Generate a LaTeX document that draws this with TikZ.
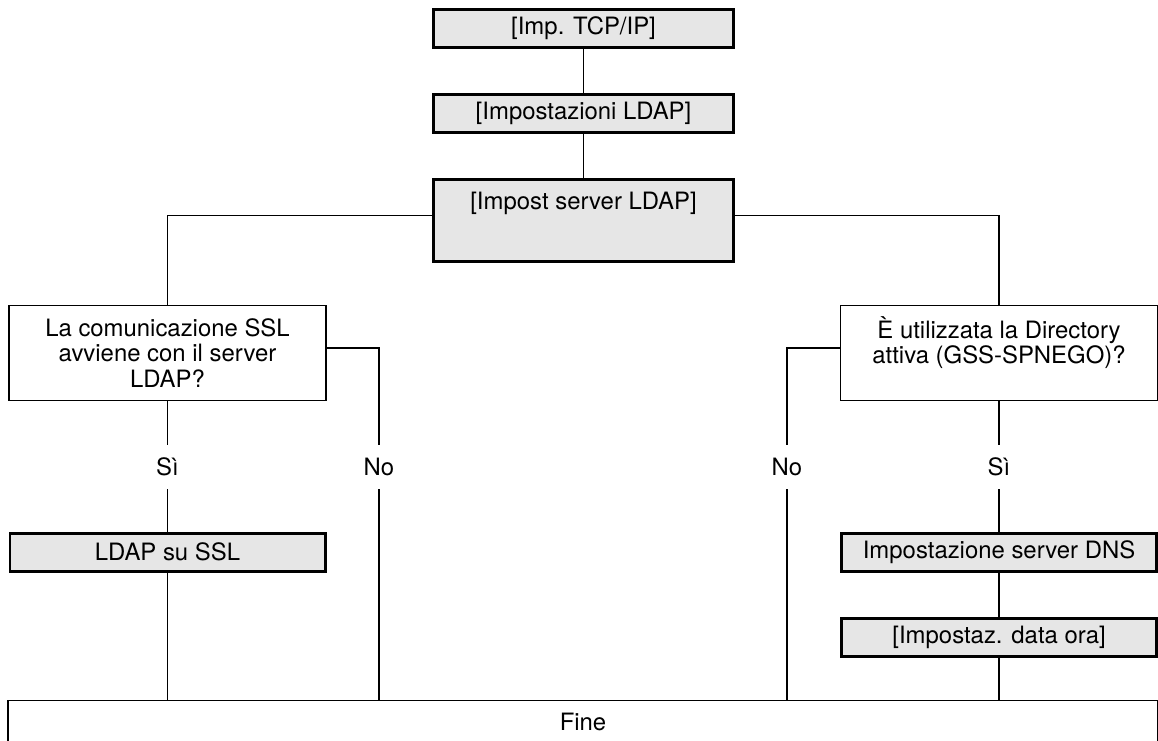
\documentclass[tikz,border=0pt]{standalone}
\usepackage{fontspec}
\setmainfont{TeX Gyre Heros}
\usepackage{xcolor}
\usepackage{tikz}
\definecolor{boxgray}{RGB}{230,230,230}

\begin{document}
\begin{tikzpicture}[node distance=1.7cm,
  font=\fontsize{13.6}{14.5}\selectfont,
  menu/.style={draw,line width=1.7pt,fill=boxgray,minimum height=0.76cm},
  ask/.style={draw,line width=0.7pt,align=center,minimum width=6.34cm,minimum height=1.9cm},
  ans/.style={minimum height=0.88cm,inner sep=0pt},
  wire/.style={line width=0.7pt}]
\useasboundingbox (0,0) rectangle (23.16,-14.8);
\clip (0,0) rectangle (23.16,-14.8);

\node[menu,minimum width=6cm](tcp) at (11.67,-0.57){[Imp. TCP/IP]};
\node[menu,minimum width=6cm,below of=tcp](ldap){[Impostazioni LDAP]};
\node[menu,minimum width=6cm,inner ysep=0pt,text height=0.6cm,text depth=1.04cm,
  below of=ldap,yshift=-0.43cm](srv){[Impost server LDAP]};
\draw[wire](tcp)--(ldap); \draw[wire](ldap)--(srv);

% ramo SSL
\node[ask](ssl) at (3.35,-7.06){La comunicazione SSL\\avviene con il server\\LDAP?};
\node[ans,below of=ssl,yshift=-0.58cm](siL){Sì};
\node[ans,right of=siL,xshift=2.53cm](noL){No};
\node[menu,minimum width=6.3cm,below of=siL](ldapssl){LDAP su SSL};

% ramo GSS-SPNEGO
\node[ask](gss) at (19.98,-7.06){È utilizzata la Directory\\attiva (GSS-SPNEGO)?\\\mbox{}};
\node[ans,below of=gss,yshift=-0.58cm](siR){Sì};
\node[ans,left of=siR,xshift=-2.54cm](noR){No};
\node[menu,minimum width=6.3cm,below of=siR](dns){Impostazione server DNS};
\node[menu,minimum width=6.3cm,below of=dns](ora){[Impostaz. data ora]};

\node[draw,line width=0.7pt,minimum width=23cm,minimum height=0.86cm](fine) at (11.66,-14.44){Fine};

\draw[wire]([yshift=0.09cm]srv.west)-|(ssl.north);
\draw[wire]([yshift=0.09cm]srv.east)-|(gss.north);
\draw[wire](ssl.south)--(siL.north); \draw[wire](siL.south)--(ldapssl.north);
\draw[wire](ldapssl.south)--(ldapssl.south|-fine.north);
\draw[wire]([yshift=0.1cm]ssl.east)-|(noL.north);
\draw[wire](noL.south)--(noL.south|-fine.north);
\draw[wire](gss.south)--(siR.north); \draw[wire](siR.south)--(dns.north);
\draw[wire](dns)--(ora); \draw[wire](ora.south)--(ora.south|-fine.north);
\draw[wire]([yshift=0.1cm]gss.west)-|(noR.north);
\draw[wire](noR.south)--(noR.south|-fine.north);
\end{tikzpicture}
\end{document}
